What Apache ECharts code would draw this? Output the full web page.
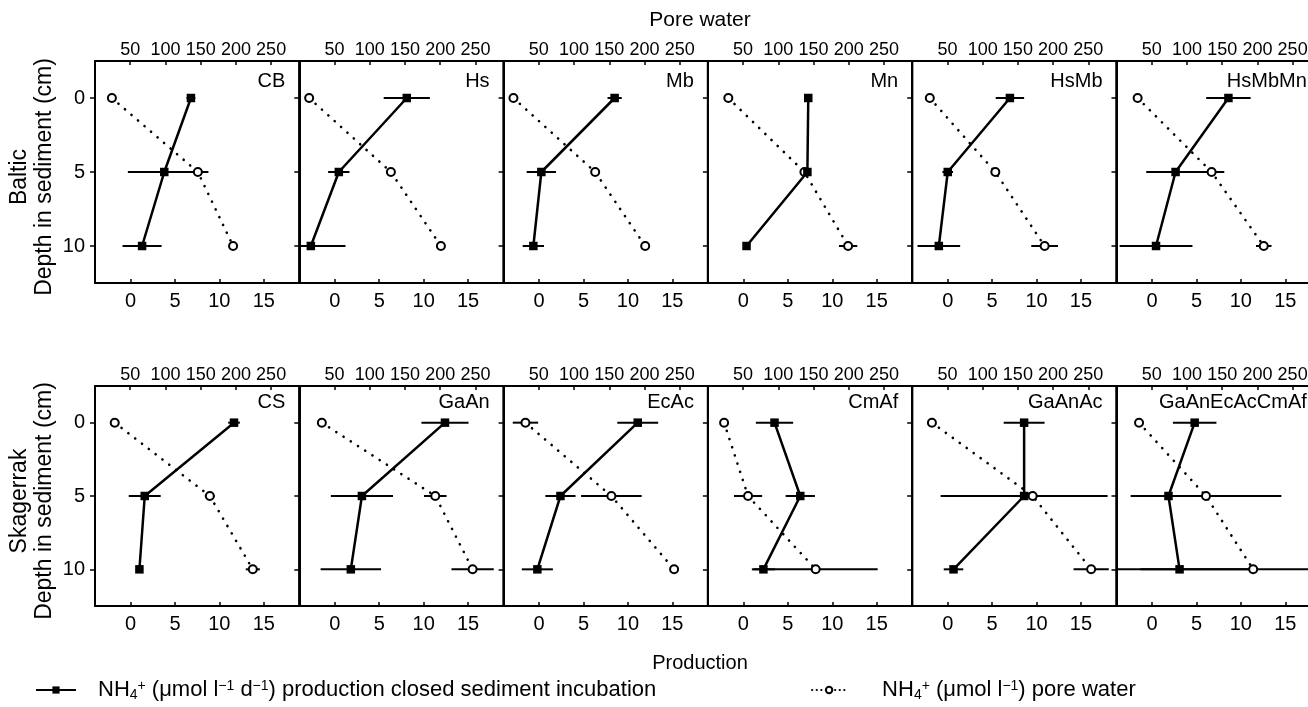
<!DOCTYPE html>
<html>
<head>
<meta charset="utf-8">
<script src="https://cdn.jsdelivr.net/npm/echarts@6/dist/echarts.min.js"></script>
<style>
html, body { margin: 0; padding: 0; background: #fff; }
#container { width: 1308px; height: 707px; }
</style>
</head>
<body>
<div id="container"></div>
<script>
// depth of each sample (cm)
var depths = [0, 5, 10];
var prodTicks = [0, 5, 10, 15];
var poreTicks = [50, 100, 150, 200, 250];
var depthTicks = [0, 5, 10];

var balticNames = ["CB", "Hs", "Mb", "Mn", "HsMb", "HsMbMn"];
var skagerrakNames = ["CS", "GaAn", "EcAc", "CmAf", "GaAnAc", "GaAnEcAcCmAf"];

// NH4+ production, closed sediment incubation (umol l-1 d-1), one row per panel
var balticProd = [[6.8, 3.8, 1.3], [8.1, 0.45, -2.7], [8.5, 0.25, -0.65], [7.3, 7.2, 0.35], [7.0, 0.0, -1.0], [8.6, 2.65, 0.45]];
var balticProdErr = [[0.5, 4.1, 2.2], [2.6, 1.2, 3.9], [0.8, 1.65, 1.2], [0, 0, 0], [1.6, 0.6, 2.4], [2.5, 3.3, 4.1]];
// NH4+ pore water (umol l-1)
var balticPore = [[24, 146, 196], [14, 130, 201], [14, 130, 201], [29, 137, 199], [25, 118, 188], [30, 135, 209]];
var balticPoreErr = [[0, 15, 6], [0, 0, 0], [0, 0, 0], [0, 0, 13], [0, 0, 19], [0, 18, 11]];

var skagerrakProd = [[11.65, 1.6, 1.0], [12.4, 3.05, 1.8], [11.1, 2.4, -0.2], [3.5, 6.4, 2.25], [8.6, 8.6, 0.65], [4.8, 1.85, 3.1]];
var skagerrakProdErr = [[0.66, 1.8, 0.4], [2.65, 3.5, 3.4], [2.3, 1.7, 1.75], [2.1, 1.65, 1.3], [2.3, 9.4, 1.1], [2.45, 2.0, 8]];
var skagerrakPore = [[28, 163, 224], [32, 193, 246], [31, 153, 242], [23, 57, 153], [28, 171, 254], [32, 127, 194]];
var skagerrakPoreErr = [[0, 7, 10], [0, 16, 30], [18, 43, 0], [0, 20, 88], [0, 0, 25], [0, 107, 160]];

var FONT = "Liberation Sans, Arial, Helvetica, sans-serif";
var PANEL_W = 204.3;
var rows = [
    { top: 61, height: 222, names: balticNames, prod: balticProd, prodErr: balticProdErr, pore: balticPore, poreErr: balticPoreErr, label: "Baltic", nameY: 81 },
    { top: 386, height: 220, names: skagerrakNames, prod: skagerrakProd, prodErr: skagerrakProdErr, pore: skagerrakPore, poreErr: skagerrakPoreErr, label: "Skagerrak", nameY: 402 }
];

// horizontal error bar, kept inside the panel
function errorBar(params, api) {
    var x = api.value(0), d = api.value(1), e = api.value(2);
    if (!e) return null;
    var a = api.coord([x - e, d]);
    var b = api.coord([x + e, d]);
    var cs = params.coordSys;
    var x1 = Math.max(a[0], cs.x), x2 = Math.min(b[0], cs.x + cs.width);
    return {
        type: "line",
        shape: { x1: x1, y1: a[1], x2: x2, y2: b[1] },
        style: { stroke: "#000", lineWidth: 2 }
    };
}

function withDepth(values, errs) {
    return values.map(function (v, i) { return [v, depths[i], errs[i]]; });
}

var grids = [], xAxes = [], yAxes = [], series = [], graphics = [];
var labelStyle = { color: "#000", fontSize: 20, fontFamily: FONT };
var axisLine = { onZero: false, lineStyle: { color: "#000", width: 2 } };

rows.forEach(function (row, r) {
    row.names.forEach(function (name, c) {
        var g = grids.length;
        var left = 95 + c * PANEL_W;
        grids.push({
            left: left, top: row.top, width: PANEL_W, height: row.height,
            outerBoundsMode: "none", containLabel: false,
            show: true, borderColor: "#000", borderWidth: 2, backgroundColor: "transparent"
        });
        // bottom: production
        xAxes.push({
            gridIndex: g, type: "value", position: "bottom", min: -4, max: 19,
            axisLine: axisLine,
            axisTick: { inside: true, length: 4, customValues: prodTicks, lineStyle: { color: "#000", width: 1.5 } },
            axisLabel: Object.assign({ margin: 8, customValues: prodTicks }, labelStyle),
            splitLine: { show: false }
        });
        // top: pore water
        xAxes.push({
            gridIndex: g, type: "value", position: "top", min: 0, max: 290,
            axisLine: axisLine,
            axisTick: { inside: true, length: 4, customValues: poreTicks, lineStyle: { color: "#000", width: 1.5 } },
            axisLabel: Object.assign({}, labelStyle, { margin: 2, fontSize: 18, customValues: poreTicks }),
            splitLine: { show: false }
        });
        yAxes.push({
            gridIndex: g, type: "value", inverse: true, min: -2.5, max: 12.5,
            axisLine: axisLine,
            axisTick: { inside: false, length: 5, customValues: depthTicks, lineStyle: { color: "#000", width: 1.5 } },
            axisLabel: Object.assign({ show: c === 0, margin: 10, customValues: depthTicks }, labelStyle),
            splitLine: { show: false }
        });
        yAxes.push({
            gridIndex: g, type: "value", inverse: true, min: -2.5, max: 12.5,
            axisLine: { show: false, onZero: false },
            axisTick: { inside: true, length: 5, customValues: depthTicks, lineStyle: { color: "#000", width: 1.5 } },
            axisLabel: { show: false },
            splitLine: { show: false }
        });

        var xb = 2 * g, xt = 2 * g + 1, y = 2 * g;
        series.push({
            type: "custom", name: "prodErr", xAxisIndex: xb, yAxisIndex: y, z: 3,
            renderItem: errorBar, encode: { x: 0, y: 1 },
            data: withDepth(row.prod[c], row.prodErr[c])
        });
        series.push({
            type: "custom", name: "poreErr", xAxisIndex: xt, yAxisIndex: y, z: 3,
            renderItem: errorBar, encode: { x: 0, y: 1 },
            data: withDepth(row.pore[c], row.poreErr[c])
        });
        series.push({
            type: "line", name: "pore", xAxisIndex: xt, yAxisIndex: y, z: 4,
            symbol: "circle", symbolSize: 8,
            lineStyle: { color: "#000", width: 2.6, type: [0.1, 8.5], cap: "round" },
            itemStyle: { color: "#fff", borderColor: "#000", borderWidth: 2 },
            data: row.pore[c].map(function (v, i) { return [v, depths[i]]; })
        });
        series.push({
            type: "line", name: "prod", xAxisIndex: xb, yAxisIndex: y, z: 5,
            symbol: "rect", symbolSize: 8.5,
            lineStyle: { color: "#000", width: 2.5 },
            itemStyle: { color: "#000" },
            data: row.prod[c].map(function (v, i) { return [v, depths[i]]; })
        });

        graphics.push({
            type: "text", x: left + PANEL_W - 14, y: row.nameY,
            style: { text: name, fill: "#000", font: "20px " + FONT, textAlign: "right", textVerticalAlign: "middle" }
        });
    });

    var cy = row.top + row.height / 2 + 5;
    graphics.push({
        type: "text", x: 20, y: cy, rotation: Math.PI / 2,
        style: { text: row.label, fill: "#000", font: "23px " + FONT, textAlign: "center", textVerticalAlign: "middle" }
    });
    graphics.push({
        type: "text", x: 45, y: cy, rotation: Math.PI / 2,
        style: { text: "Depth in sediment (cm)", fill: "#000", font: "23px " + FONT, textAlign: "center", textVerticalAlign: "middle" }
    });
});

graphics.push({
    type: "text", x: 700, y: 20,
    style: { text: "Pore water", fill: "#000", font: "21px " + FONT, textAlign: "center", textVerticalAlign: "middle" }
});
graphics.push({
    type: "text", x: 700, y: 663,
    style: { text: "Production", fill: "#000", font: "20px " + FONT, textAlign: "center", textVerticalAlign: "middle" }
});

var rich = {
    sub: { fontSize: 14, fontFamily: FONT, color: "#000", padding: [10, 0, 0, 0] },
    sup: { fontSize: 14, fontFamily: FONT, color: "#000", padding: [0, 0, 8, 0] }
};
var legendText = {
    prod: "NH{sub|4}{sup|+} (μmol l{sup|−1} d{sup|−1}) production closed sediment incubation",
    pore: "NH{sub|4}{sup|+} (μmol l{sup|−1}) pore water"
};

var chart = echarts.init(document.getElementById("container"), null, { renderer: "canvas" });
chart.setOption({
    backgroundColor: "#fff",
    animation: false,
    grid: grids,
    xAxis: xAxes,
    yAxis: yAxes,
    legend: [
        {
            data: ["prod"], left: 30, top: 674, itemWidth: 40, itemHeight: 9, selectedMode: false,
            formatter: function (n) { return legendText[n]; },
            textStyle: { fontSize: 22, fontFamily: FONT, color: "#000", padding: [0, 0, 0, 17], rich: rich }
        },
        {
            data: ["pore"], left: 806, top: 674, itemWidth: 34, itemHeight: 8, selectedMode: false,
            lineStyle: { type: [0.1, 4.5], width: 2.2, cap: "round" },
            formatter: function (n) { return legendText[n]; },
            textStyle: { fontSize: 22, fontFamily: FONT, color: "#000", padding: [0, 0, 0, 31], rich: rich }
        }
    ],
    graphic: graphics,
    series: series
});
window.addEventListener("resize", chart.resize);
</script>
</body>
</html>
